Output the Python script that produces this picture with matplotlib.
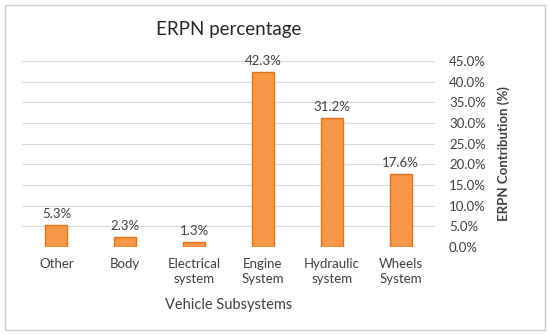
import numpy as np
import matplotlib.pyplot as plt
from matplotlib.patches import Rectangle

categories = ['Other', 'Body', 'Electrical\nsystem', 'Engine\nSystem', 'Hydraulic\nsystem', 'Wheels\nSystem']
values = [5.3, 2.3, 1.3, 42.3, 31.2, 17.6]
ticks = np.arange(0, 46, 5)

plt.rcParams['font.family'] = ['Lato', 'DejaVu Sans']

fig = plt.figure(figsize=(5.5, 3.35), dpi=100)
ax = fig.add_axes([0.04, 0.263, 0.751, 0.555])

x = np.arange(len(categories))
bars = ax.bar(x, values, width=0.32, color='#F79646', edgecolor='#E2731E', linewidth=1, zorder=3)
for xi, v in zip(x, values):
    ax.text(xi, v + 1.2, f'{v:.1f}%', ha='center', va='bottom', fontsize=9.5, color='#404040')

ax.set_xlim(-0.5, 5.5)
ax.set_ylim(0, 45)
ax.set_xticks(x)
ax.set_xticklabels(categories, fontsize=9.5, color='#404040', linespacing=1.3)
ax.yaxis.tick_right()
ax.yaxis.set_label_position('right')
ax.set_yticks(ticks)
ax.set_yticklabels([f'{t:.1f}%' for t in ticks], fontsize=9.5, color='#404040')
ax.tick_params(axis='both', length=0)
ax.tick_params(axis='y', pad=10)
ax.tick_params(axis='x', pad=8)
ax.grid(axis='y', color='#D9D9D9', linewidth=0.8, zorder=0)
for s in ax.spines.values():
    s.set_visible(False)
ax.axhline(0, color='#D9D9D9', linewidth=0.8, zorder=1)

ax.set_xlabel('Vehicle Subsystems', fontsize=10.5, color='#404040', labelpad=9)
ax.set_ylabel('ERPN Contribution (%)', fontsize=9.5, color='#404040', fontweight='bold', labelpad=8)
ax.set_title('ERPN percentage', fontsize=13.5, color='#262626', pad=19)

fig.patches.append(Rectangle((5 / 550, 5 / 335), 540 / 550, 325 / 335, transform=fig.transFigure,
                             fill=False, edgecolor='#D0D0D0', linewidth=1))

fig.savefig('out.png', dpi=100, facecolor='white')
